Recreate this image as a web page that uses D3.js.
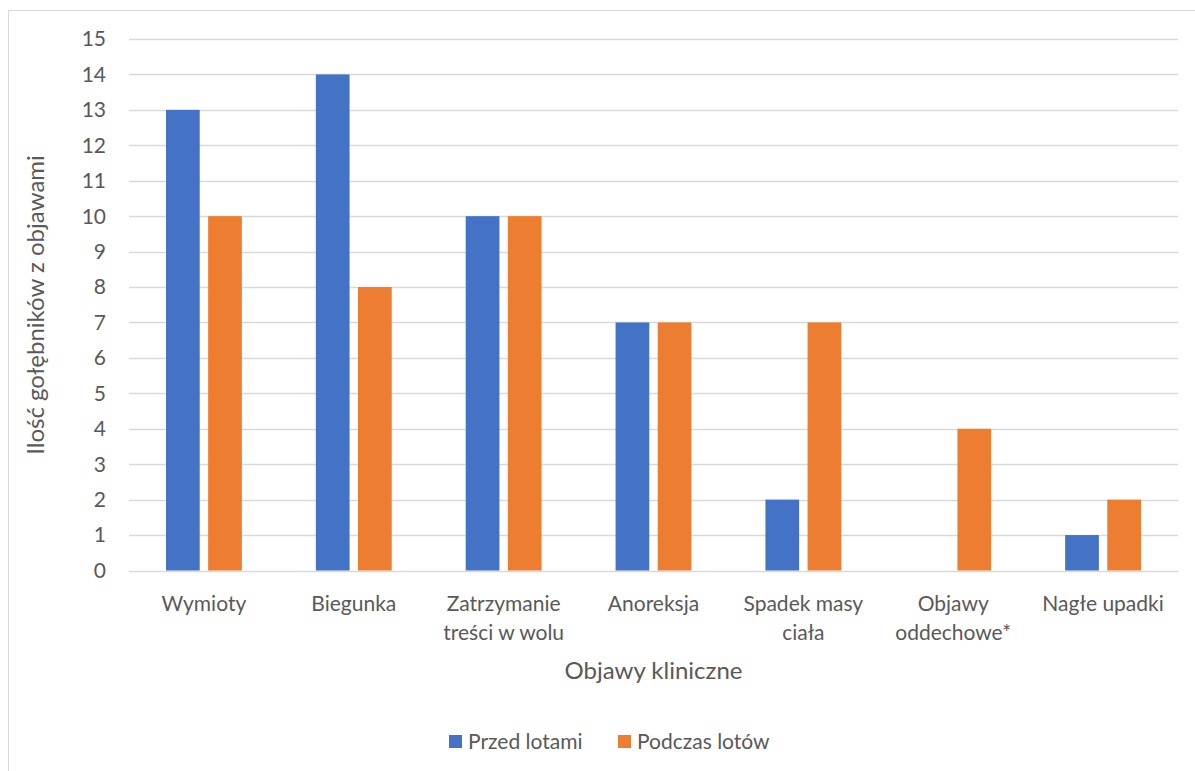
<!DOCTYPE html>
<html>
<head>
<meta charset="utf-8">
<script src="https://cdn.jsdelivr.net/npm/d3@7"></script>
<style>
  body { margin: 0; background: #fff; }
  text { font-family: Lato, "Open Sans", sans-serif; fill: #595959; }
</style>
</head>
<body>
<svg id="svg" width="1195" height="771"></svg>
<script>
// dane
const categories = [
  ["Wymioty"],
  ["Biegunka"],
  ["Zatrzymanie", "treści w wolu"],
  ["Anoreksja"],
  ["Spadek masy", "ciała"],
  ["Objawy", "oddechowe*"],
  ["Nagłe upadki"]
];
const seriesNames = ["Przed lotami", "Podczas lotów"];
const przedLotami = [13, 14, 10, 7, 2, 0, 1];
const podczasLotow = [10, 8, 10, 7, 7, 4, 2];
const colors = ["#4472c4", "#ed7d31"];
const yTicks = d3.range(0, 16);

const svg = d3.select("#svg");
const margin = {top: 39, right: 17, bottom: 200, left: 129};
const width = 1195, height = 771;

// ramka wykresu
svg.append("rect")
  .attr("x", 8.5).attr("y", 10.5)
  .attr("width", 1200).attr("height", 800)
  .attr("fill", "none").attr("stroke", "#d9d9d9");

const x = d3.scaleBand()
  .domain(d3.range(categories.length))
  .range([margin.left, width - margin.right]);
const x1 = d3.scaleBand()
  .domain([0, 1])
  .range([37, x.bandwidth() - 37])
  .paddingInner(0.2);
const y = d3.scaleLinear()
  .domain([0, 15])
  .range([570.5, margin.top]);

// siatka
svg.append("g")
  .selectAll("line")
  .data(yTicks)
  .enter().append("line")
  .attr("x1", margin.left).attr("x2", width - margin.right)
  .attr("y1", d => Math.round(y(d)) + 0.5).attr("y2", d => Math.round(y(d)) + 0.5)
  .attr("stroke", "#d9d9d9").attr("stroke-width", 1.3);

// etykiety osi Y
svg.append("g")
  .selectAll("text")
  .data(yTicks)
  .enter().append("text")
  .attr("x", 106).attr("y", d => y(d))
  .attr("dy", "0.35em")
  .attr("text-anchor", "end")
  .style("font-size", "21px")
  .text(d => d);

// słupki
const series = [przedLotami, podczasLotow];
series.forEach((vals, s) => {
  svg.append("g")
    .selectAll("rect")
    .data(vals)
    .enter().append("rect")
    .attr("x", (d, i) => x(i) + x1(s))
    .attr("width", x1.bandwidth())
    .attr("y", d => y(d))
    .attr("height", d => y(0) - y(d))
    .attr("fill", colors[s]);
});

// etykiety kategorii
const cat = svg.append("g")
  .selectAll("text")
  .data(categories)
  .enter().append("text")
  .attr("x", (d, i) => x(i) + x.bandwidth() / 2)
  .attr("y", 611)
  .attr("text-anchor", "middle")
  .style("font-size", "21px");
cat.selectAll("tspan")
  .data(d => d)
  .enter().append("tspan")
  .attr("x", function() { return this.parentNode.getAttribute("x"); })
  .attr("dy", (d, i) => i === 0 ? 0 : 29)
  .text(d => d);

// tytuły osi
svg.append("text")
  .attr("x", (margin.left + width - margin.right) / 2)
  .attr("y", 679)
  .attr("text-anchor", "middle")
  .style("font-size", "24px")
  .text("Objawy kliniczne");

svg.append("text")
  .attr("transform", "translate(44,305) rotate(-90)")
  .attr("text-anchor", "middle")
  .style("font-size", "24px")
  .text("Ilość gołębników z objawami");

// legenda
const legend = svg.append("g");
const legendX = [449, 618];
seriesNames.forEach((n, i) => {
  legend.append("rect")
    .attr("x", legendX[i]).attr("y", 735)
    .attr("width", 13).attr("height", 13)
    .attr("fill", colors[i]);
  legend.append("text")
    .attr("x", legendX[i] + 19).attr("y", 749)
    .style("font-size", "21px")
    .text(n);
});
</script>
</body>
</html>
